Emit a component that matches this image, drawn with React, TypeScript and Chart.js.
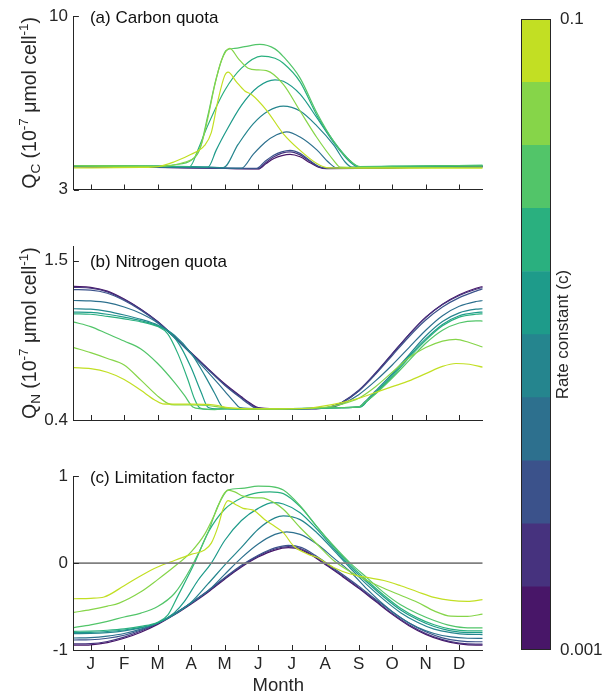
import React, { useEffect, useRef } from "react";
import { Chart, registerables } from "chart.js";

Chart.register(...registerables);

const FONT = '"Liberation Sans", Arial, Helvetica, sans-serif';
const AXIS_COLOR = "#262626";
Chart.defaults.font.family = FONT;

// ---------- shared axis data ----------
const monthLabels = ["J", "F", "M", "A", "M", "J", "J", "A", "S", "O", "N", "D"];
const monthTicks = [0.5, 1.5, 2.5, 3.5, 4.5, 5.5, 6.5, 7.5, 8.5, 9.5, 10.5, 11.5];
const monthMin = 0;
const monthMax = 12.2;

// rate constant (c) colour levels, low -> high
const rateColors = ["#481668", "#46327e", "#3b528b", "#2d708e", "#25858e", "#1e9b8a", "#2ab07f", "#52c569", "#86d549", "#c2df23"];
const rateEdges = [0.001, 0.001585, 0.002512, 0.003981, 0.00631, 0.01, 0.01585, 0.02512, 0.03981, 0.0631, 0.1];
const rateTicks = [0.001, 0.1];
const rateTickLabels = ["0.001", "0.1"];

const carbonTicks = [3, 10];
const carbonTickLabels = ["3", "10"];
const nitrogenTicks = [0.4, 1.5];
const nitrogenTickLabels = ["0.4", "1.5"];
const limitTicks = [-1, 0, 1];
const limitTickLabels = ["-1", "0", "1"];

type Pt = [number, number];

// ---------- (a) Carbon quota, [month, value] ----------
const carbon0: Pt[] = [[0,3.92],[2,3.9],[4,3.86],[5.5,3.83],[5.74,4.05],[5.97,4.25],[6.21,4.37],[6.45,4.42],[6.75,4.32],[7.05,4.08],[7.3,3.9],[7.55,3.84],[8.5,3.85],[10,3.88],[12.2,3.91]];
const carbon1: Pt[] = [[0,3.92],[2,3.9],[4,3.87],[5.5,3.84],[5.74,4.1],[5.97,4.32],[6.21,4.47],[6.45,4.52],[6.75,4.4],[7.05,4.13],[7.3,3.92],[7.55,3.85],[8.5,3.86],[10,3.89],[12.2,3.92]];
const carbon2: Pt[] = [[0,3.93],[2,3.91],[4,3.87],[5.45,3.85],[5.7,4.13],[5.95,4.37],[6.2,4.52],[6.45,4.58],[6.75,4.46],[7.05,4.16],[7.3,3.94],[7.55,3.86],[8.5,3.87],[10,3.9],[12.2,3.93]];
const carbon3: Pt[] = [[0,3.94],[2,3.92],[4,3.89],[5.0,3.86],[5.35,4.42],[5.7,4.9],[6.05,5.21],[6.35,5.33],[6.75,5.12],[7.25,4.6],[7.6,4.1],[7.85,3.87],[9,3.88],[12.2,3.93]];
const carbon4: Pt[] = [[0,3.95],[2,3.93],[4,3.9],[4.46,3.88],[4.9,4.82],[5.35,5.65],[5.8,6.17],[6.25,6.37],[6.75,6.17],[7.25,5.57],[7.75,4.8],[8.1,4.1],[8.3,3.9],[9,3.9],[12.2,3.95]];
const carbon5: Pt[] = [[0,3.96],[2,3.94],[3.5,3.92],[4.0,3.9],[4.25,4.6],[4.5,5.25],[5.0,6.4],[5.5,7.15],[6.0,7.43],[6.25,7.37],[6.75,6.85],[7.25,5.9],[7.75,4.9],[8.25,4.1],[8.5,3.91],[10,3.93],[12.2,3.97]];
const carbon6: Pt[] = [[0,3.97],[2,3.95],[3.46,3.93],[3.7,4.6],[4.0,5.6],[4.5,7.0],[5.0,7.9],[5.6,8.39],[6.0,8.3],[6.25,8.1],[6.75,7.35],[7.25,6.0],[7.75,4.95],[8.25,4.15],[8.5,3.93],[10,3.95],[12.2,3.98]];
const carbon7: Pt[] = [[0,3.97],[2.5,3.96],[3.0,4.0],[3.5,4.18],[3.75,4.6],[4.0,6.0],[4.25,7.5],[4.55,8.62],[4.8,8.7],[5.1,8.77],[5.55,8.86],[6.0,8.68],[6.25,8.37],[6.75,7.5],[7.25,6.1],[7.75,4.95],[8.25,4.15],[8.55,3.92],[10,3.95],[12.2,3.98]];
const carbon8: Pt[] = [[0,3.95],[2.5,3.93],[2.9,3.97],[3.3,4.1],[3.6,4.3],[3.8,4.8],[4.0,5.9],[4.2,7.2],[4.4,8.2],[4.65,8.7],[4.9,8.3],[5.2,7.9],[5.5,7.83],[5.75,7.8],[6.25,7.25],[6.75,6.17],[7.25,5.1],[7.75,4.18],[7.95,3.9],[9,3.88],[12.2,3.9]];
const carbon9: Pt[] = [[0,3.87],[2.0,3.89],[2.5,3.92],[3.0,4.12],[3.5,4.42],[3.9,4.78],[4.1,5.3],[4.3,6.6],[4.5,7.6],[4.6,7.74],[4.85,7.35],[5.1,6.98],[5.3,6.84],[5.75,6.2],[6.25,5.25],[6.75,4.58],[7.25,4.05],[7.6,3.87],[9,3.86],[12.2,3.86]];

// ---------- (b) Nitrogen quota ----------
const nitrogen0: Pt[] = [[0,1.322],[0.5,1.316],[1,1.29],[1.5,1.235],[2,1.165],[2.5,1.08],[3,0.975],[3.5,0.865],[4,0.755],[4.5,0.65],[5,0.56],[5.3,0.51],[5.5,0.485],[6,0.477],[7,0.478],[7.6,0.486],[8,0.52],[8.5,0.6],[9,0.72],[9.5,0.855],[10,0.99],[10.5,1.11],[11,1.2],[11.5,1.265],[12,1.31],[12.2,1.322]];
const nitrogen1: Pt[] = [[0,1.316],[0.5,1.31],[1,1.285],[1.5,1.232],[2,1.163],[2.5,1.078],[3,0.973],[3.5,0.862],[4,0.752],[4.5,0.645],[5,0.555],[5.3,0.505],[5.45,0.484],[6,0.477],[7,0.478],[7.6,0.487],[8,0.523],[8.5,0.605],[9,0.725],[9.5,0.858],[10,0.99],[10.5,1.108],[11,1.197],[11.5,1.26],[12,1.303],[12.2,1.315]];
const nitrogen2: Pt[] = [[0,1.3],[0.5,1.297],[1,1.275],[1.5,1.225],[2,1.158],[2.5,1.075],[3,0.97],[3.5,0.86],[4,0.748],[4.5,0.64],[5,0.548],[5.25,0.505],[5.4,0.484],[6,0.477],[7,0.478],[7.6,0.487],[8,0.52],[8.5,0.6],[9,0.715],[9.5,0.845],[10,0.975],[10.5,1.09],[11,1.18],[11.5,1.245],[12,1.29],[12.2,1.305]];
const nitrogen3: Pt[] = [[0,1.225],[0.5,1.222],[1,1.21],[1.5,1.18],[2,1.135],[2.5,1.07],[3,0.97],[3.5,0.855],[4,0.73],[4.5,0.6],[4.8,0.52],[4.95,0.485],[5.5,0.477],[7,0.479],[7.7,0.488],[8,0.51],[8.5,0.575],[9,0.67],[9.5,0.78],[10,0.9],[10.5,1.02],[11,1.12],[11.5,1.185],[12,1.218],[12.2,1.225]];
const nitrogen4: Pt[] = [[0,1.168],[0.5,1.165],[1,1.15],[1.5,1.125],[2,1.095],[2.5,1.055],[3,0.985],[3.5,0.86],[3.9,0.71],[4.2,0.585],[4.45,0.487],[4.8,0.478],[6,0.476],[7,0.479],[8,0.485],[8.5,0.49],[8.7,0.53],[9,0.6],[9.5,0.72],[10,0.85],[10.5,0.98],[11,1.08],[11.5,1.14],[12,1.165],[12.2,1.168]];
const nitrogen5: Pt[] = [[0,1.145],[0.5,1.143],[1,1.13],[1.5,1.11],[2,1.085],[2.5,1.05],[2.9,0.995],[3.2,0.9],[3.5,0.76],[3.8,0.59],[4.0,0.488],[4.3,0.476],[6,0.476],[7,0.48],[8,0.486],[8.55,0.49],[8.75,0.53],[9,0.59],[9.5,0.71],[10,0.84],[10.5,0.96],[11,1.06],[11.5,1.12],[12,1.142],[12.2,1.145]];
const nitrogen6: Pt[] = [[0,1.133],[0.5,1.13],[1,1.115],[1.5,1.098],[2,1.078],[2.5,1.045],[2.8,0.995],[3.1,0.86],[3.4,0.68],[3.6,0.545],[3.75,0.485],[4,0.474],[4.5,0.478],[5,0.474],[6,0.477],[7,0.481],[8,0.486],[8.55,0.49],[8.75,0.53],[9,0.585],[9.5,0.7],[10,0.83],[10.5,0.95],[11,1.05],[11.5,1.11],[12,1.13],[12.2,1.133]];
const nitrogen7: Pt[] = [[0,1.076],[0.5,1.045],[1,0.995],[1.5,0.945],[2,0.89],[2.5,0.79],[3,0.66],[3.3,0.57],[3.55,0.49],[3.8,0.477],[4.2,0.472],[4.6,0.48],[5,0.475],[6,0.477],[7,0.481],[8,0.486],[8.5,0.49],[8.7,0.525],[9,0.58],[9.5,0.69],[10,0.81],[10.5,0.93],[11,1.02],[11.5,1.07],[12,1.085],[12.2,1.083]];
const nitrogen8: Pt[] = [[0,0.9],[0.5,0.865],[1,0.825],[1.5,0.78],[2,0.675],[2.5,0.565],[2.8,0.515],[3,0.505],[3.5,0.505],[4,0.5],[4.5,0.484],[5,0.478],[6,0.477],[7,0.48],[7.5,0.488],[8,0.51],[8.5,0.55],[9,0.63],[9.5,0.73],[10,0.83],[10.5,0.9],[11,0.945],[11.4,0.957],[11.8,0.935],[12.2,0.904]];
const nitrogen9: Pt[] = [[0,0.762],[0.5,0.755],[1,0.73],[1.5,0.68],[2,0.605],[2.4,0.54],[2.65,0.512],[3,0.51],[3.5,0.51],[4,0.508],[4.3,0.5],[4.6,0.485],[5,0.479],[6,0.477],[7,0.481],[7.3,0.49],[8,0.52],[8.5,0.55],[9,0.59],[9.5,0.63],[10,0.67],[10.5,0.72],[11,0.77],[11.4,0.79],[11.8,0.785],[12.2,0.765]];

// ---------- (c) Limitation factor ----------
const limit0: Pt[] = [[0,-0.945],[0.5,-0.94],[1,-0.915],[1.5,-0.865],[2,-0.795],[2.5,-0.705],[3,-0.595],[3.5,-0.47],[4,-0.335],[4.5,-0.185],[5,-0.045],[5.5,0.07],[6,0.15],[6.4,0.177],[6.8,0.15],[7.2,0.065],[7.5,-0.015],[8,-0.15],[8.5,-0.29],[9,-0.44],[9.5,-0.59],[10,-0.72],[10.5,-0.82],[11,-0.89],[11.5,-0.93],[12,-0.945],[12.2,-0.945]];
const limit1: Pt[] = [[0,-0.93],[0.5,-0.927],[1,-0.902],[1.5,-0.852],[2,-0.782],[2.5,-0.695],[3,-0.585],[3.5,-0.46],[4,-0.325],[4.5,-0.175],[5,-0.035],[5.5,0.08],[6,0.162],[6.4,0.19],[6.8,0.162],[7.2,0.075],[7.5,-0.005],[8,-0.14],[8.5,-0.28],[9,-0.43],[9.5,-0.58],[10,-0.71],[10.5,-0.81],[11,-0.88],[11.5,-0.92],[12,-0.933],[12.2,-0.933]];
const limit2: Pt[] = [[0,-0.885],[0.5,-0.882],[1,-0.865],[1.5,-0.83],[2,-0.77],[2.5,-0.69],[3,-0.582],[3.5,-0.455],[4,-0.318],[4.5,-0.168],[5,-0.025],[5.5,0.09],[6,0.175],[6.4,0.205],[6.8,0.178],[7.2,0.09],[7.5,0.01],[8,-0.125],[8.5,-0.265],[9,-0.415],[9.5,-0.56],[10,-0.69],[10.5,-0.79],[11,-0.86],[11.5,-0.895],[12,-0.905],[12.2,-0.905]];
const limit3: Pt[] = [[0,-0.862],[0.5,-0.858],[1,-0.84],[1.5,-0.81],[2,-0.76],[2.5,-0.69],[3,-0.585],[3.5,-0.46],[4,-0.32],[4.5,-0.13],[5,0.06],[5.5,0.22],[6,0.33],[6.35,0.36],[6.75,0.33],[7.25,0.22],[7.75,0.06],[8.25,-0.1],[8.75,-0.3],[9.25,-0.48],[9.75,-0.63],[10.25,-0.74],[10.75,-0.81],[11.25,-0.85],[11.75,-0.865],[12.2,-0.867]];
const limit4: Pt[] = [[0,-0.812],[0.5,-0.81],[1,-0.8],[1.5,-0.78],[2,-0.745],[2.5,-0.69],[3,-0.59],[3.5,-0.45],[4,-0.24],[4.6,0.02],[5,0.18],[5.5,0.39],[6,0.52],[6.25,0.543],[6.75,0.5],[7.25,0.35],[7.75,0.15],[8.25,-0.06],[8.75,-0.25],[9.25,-0.42],[9.75,-0.57],[10.25,-0.68],[10.75,-0.76],[11.25,-0.8],[11.75,-0.82],[12.2,-0.822]];
const limit5: Pt[] = [[0,-0.8],[0.5,-0.797],[1,-0.787],[1.5,-0.77],[2,-0.74],[2.5,-0.69],[3,-0.57],[3.3,-0.44],[3.7,-0.2],[4.1,0.0],[4.5,0.26],[5,0.49],[5.5,0.63],[5.95,0.695],[6.25,0.68],[6.75,0.58],[7.25,0.39],[7.75,0.17],[8.25,-0.04],[8.75,-0.22],[9.25,-0.39],[9.75,-0.54],[10.25,-0.65],[10.75,-0.73],[11.25,-0.78],[11.75,-0.8],[12.2,-0.8]];
const limit6: Pt[] = [[0,-0.785],[0.5,-0.782],[1,-0.773],[1.5,-0.757],[2,-0.728],[2.5,-0.68],[2.8,-0.6],[3.1,-0.38],[3.6,0.0],[4,0.35],[4.5,0.62],[5,0.75],[5.5,0.81],[5.85,0.82],[6.25,0.8],[6.75,0.65],[7.25,0.42],[7.75,0.19],[8.25,-0.02],[8.75,-0.2],[9.25,-0.37],[9.75,-0.52],[10.25,-0.63],[10.75,-0.71],[11.25,-0.76],[11.75,-0.78],[12.2,-0.78]];
const limit7: Pt[] = [[0,-0.742],[0.5,-0.71],[1,-0.67],[1.5,-0.62],[2,-0.575],[2.5,-0.5],[3,-0.35],[3.5,-0.05],[4,0.35],[4.3,0.66],[4.6,0.84],[5,0.86],[5.5,0.885],[5.9,0.88],[6.25,0.84],[6.75,0.66],[7.25,0.42],[7.75,0.2],[8.25,0.0],[8.75,-0.17],[9.25,-0.34],[9.75,-0.48],[10.25,-0.58],[10.75,-0.66],[11.25,-0.72],[11.75,-0.745],[12.2,-0.745]];
const limit8: Pt[] = [[0,-0.568],[0.5,-0.535],[1,-0.495],[1.35,-0.46],[2,-0.33],[2.5,-0.19],[3,-0.04],[3.5,0.13],[3.9,0.33],[4.2,0.56],[4.45,0.78],[4.6,0.84],[4.8,0.82],[5.05,0.77],[5.4,0.75],[5.6,0.75],[6,0.69],[6.25,0.62],[6.75,0.41],[7.25,0.22],[7.75,0.03],[8.25,-0.1],[8.75,-0.2],[9.25,-0.29],[9.75,-0.37],[10.25,-0.45],[10.75,-0.55],[11.25,-0.61],[11.75,-0.612],[12.2,-0.587]];
const limit9: Pt[] = [[0,-0.41],[0.5,-0.405],[0.9,-0.39],[1.5,-0.26],[2,-0.145],[2.5,-0.045],[3,0.03],[3.5,0.1],[3.9,0.15],[4.1,0.23],[4.3,0.42],[4.45,0.62],[4.6,0.72],[4.8,0.68],[5.05,0.63],[5.35,0.61],[5.7,0.5],[6,0.42],[6.25,0.35],[6.55,0.2],[7,0.1],[7.25,0.067],[7.75,-0.05],[8.25,-0.125],[8.75,-0.165],[9.25,-0.2],[9.75,-0.26],[10.25,-0.33],[10.75,-0.395],[11.25,-0.43],[11.75,-0.44],[12.2,-0.421]];

const carbonSeries = [carbon0, carbon1, carbon2, carbon3, carbon4, carbon5, carbon6, carbon7, carbon8, carbon9];
const nitrogenSeries = [nitrogen0, nitrogen1, nitrogen2, nitrogen3, nitrogen4, nitrogen5, nitrogen6, nitrogen7, nitrogen8, nitrogen9];
const limitSeries = [limit0, limit1, limit2, limit3, limit4, limit5, limit6, limit7, limit8, limit9];

type LabelPart = { t: string; s: number };
const carbonLabel: LabelPart[] = [
  { t: "Q", s: 0 }, { t: "C", s: -1 }, { t: " (10", s: 0 }, { t: "-7", s: 1 },
  { t: " \u03bcmol cell", s: 0 }, { t: "-1", s: 1 }, { t: ")", s: 0 },
];
const nitrogenLabel: LabelPart[] = [
  { t: "Q", s: 0 }, { t: "N", s: -1 }, { t: " (10", s: 0 }, { t: "-7", s: 1 },
  { t: " \u03bcmol cell", s: 0 }, { t: "-1", s: 1 }, { t: ")", s: 0 },
];

const CANVAS_W = 490;
const AREA_LEFT = 73.9;
const AREA_RIGHT = 482.7;

function makeDecor(title: string, titleAt: number, yLabel: LabelPart[] | null) {
  return {
    id: "panelDecor",
    afterDraw(chart: any) {
      const { ctx, chartArea: a, scales } = chart;
      const xs = scales.x;
      const ys = scales.y;
      ctx.save();
      ctx.strokeStyle = AXIS_COLOR;
      ctx.lineWidth = 1;
      ctx.beginPath();
      xs.ticks.forEach((t: any) => {
        const px = Math.round(xs.getPixelForValue(t.value)) + 0.5;
        ctx.moveTo(px, a.bottom);
        ctx.lineTo(px, a.bottom - 5);
      });
      ys.ticks.forEach((t: any) => {
        const py = Math.round(ys.getPixelForValue(t.value)) + 0.5;
        ctx.moveTo(a.left, py);
        ctx.lineTo(a.left + 5, py);
      });
      ctx.stroke();

      ctx.fillStyle = "#111";
      ctx.font = `17px ${FONT}`;
      ctx.textAlign = "left";
      ctx.textBaseline = "alphabetic";
      ctx.fillText(title, a.left + 16, ys.getPixelForValue(titleAt) + 6.5);

      if (yLabel) {
        const mainFont = `19.5px ${FONT}`;
        const smallFont = `13.5px ${FONT}`;
        let total = 0;
        const widths = yLabel.map((p) => {
          ctx.font = p.s === 0 ? mainFont : smallFont;
          const w = ctx.measureText(p.t).width;
          total += w;
          return w;
        });
        ctx.translate(35.5, (a.top + a.bottom) / 2);
        ctx.rotate(-Math.PI / 2);
        ctx.fillStyle = AXIS_COLOR;
        let cx = -total / 2;
        yLabel.forEach((p, i) => {
          ctx.font = p.s === 0 ? mainFont : smallFont;
          const dy = p.s === -1 ? 4.5 : p.s === 1 ? -7.5 : 0;
          ctx.fillText(p.t, cx, dy);
          cx += widths[i];
        });
      }
      ctx.restore();
    },
  };
}

interface PanelProps {
  top: number;
  height: number;
  areaTop: number;
  areaBottom: number;
  series: Pt[][];
  yMin: number;
  yMax: number;
  yTicks: number[];
  yTickLabels: string[];
  title: string;
  titleAt: number;
  yLabel: LabelPart[] | null;
  showMonths: boolean;
  zeroLine: boolean;
}

function Panel(p: PanelProps) {
  const ref = useRef<HTMLCanvasElement>(null);
  useEffect(() => {
    if (!ref.current) return;
    const datasets: any[] = p.series.map((d, i) => ({
      data: d,
      borderColor: rateColors[i],
      borderWidth: 1.2,
      pointRadius: 0,
      fill: false,
      cubicInterpolationMode: "monotone",
      order: 10 - i,
    }));
    if (p.zeroLine) {
      datasets.push({
        data: [[monthMin, 0], [monthMax, 0]],
        borderColor: "#808080",
        borderWidth: 1.6,
        pointRadius: 0,
        fill: false,
        order: 0,
      });
    }
    const chart = new Chart(ref.current, {
      type: "line",
      data: { datasets },
      options: {
        animation: false,
        responsive: false,
        devicePixelRatio: 1,
        layout: { padding: { top: p.areaTop, left: 0, right: CANVAS_W - AREA_RIGHT, bottom: 0 } },
        plugins: { legend: { display: false }, tooltip: { enabled: false } },
        scales: {
          x: {
            type: "linear",
            min: monthMin,
            max: monthMax,
            afterBuildTicks: (s: any) => {
              s.ticks = monthTicks.map((v) => ({ value: v }));
            },
            afterFit: (s: any) => {
              s.height = p.height - p.areaBottom;
            },
            grid: { display: false, drawTicks: false },
            border: { display: true, color: AXIS_COLOR, width: 1 },
            ticks: {
              display: p.showMonths,
              autoSkip: false,
              maxRotation: 0,
              minRotation: 0,
              padding: 4,
              color: AXIS_COLOR,
              font: { family: FONT, size: 17 },
              callback: (_v: any, i: number) => monthLabels[i],
            },
            title: {
              display: p.showMonths,
              text: "Month",
              color: AXIS_COLOR,
              font: { family: FONT, size: 18.5 },
              padding: { top: 0, bottom: 3.4 },
            },
          },
          y: {
            type: "linear",
            min: p.yMin,
            max: p.yMax,
            afterBuildTicks: (s: any) => {
              s.ticks = p.yTicks.map((v) => ({ value: v }));
            },
            afterFit: (s: any) => {
              s.width = AREA_LEFT;
            },
            grid: { display: false, drawTicks: false },
            border: { display: true, color: AXIS_COLOR, width: 1 },
            ticks: {
              padding: 6,
              color: AXIS_COLOR,
              font: { family: FONT, size: 17 },
              callback: (_v: any, i: number) => p.yTickLabels[i],
            },
          },
        },
      } as any,
      plugins: [makeDecor(p.title, p.titleAt, p.yLabel)],
    });
    return () => chart.destroy();
  }, []);
  return (
    <canvas
      ref={ref}
      width={CANVAS_W}
      height={p.height}
      style={{ position: "absolute", left: 0, top: p.top, width: CANVAS_W, height: p.height }}
    />
  );
}

const colorbarDecor = {
  id: "colorbarDecor",
  afterDraw(chart: any) {
    const { ctx, chartArea: a } = chart;
    ctx.save();
    ctx.strokeStyle = AXIS_COLOR;
    ctx.lineWidth = 1;
    const l = Math.round(a.left) + 0.5;
    const t = Math.round(a.top) + 0.5;
    const r = Math.round(a.right) - 0.5;
    const b = Math.round(a.bottom) - 0.5;
    ctx.strokeRect(l, t, r - l, b - t);
    ctx.fillStyle = AXIS_COLOR;
    ctx.font = `17px ${FONT}`;
    ctx.textAlign = "center";
    ctx.textBaseline = "alphabetic";
    ctx.translate(78, (a.top + a.bottom) / 2);
    ctx.rotate(-Math.PI / 2);
    ctx.fillText("Rate constant (c)", 0, 0);
    ctx.restore();
  },
};

function Colorbar() {
  const ref = useRef<HTMLCanvasElement>(null);
  useEffect(() => {
    if (!ref.current) return;
    const chart = new Chart(ref.current, {
      type: "bar",
      data: {
        labels: [""],
        datasets: rateColors.map((c, i) => ({
          data: [[rateEdges[i], rateEdges[i + 1]]],
          backgroundColor: c,
          borderWidth: 0,
          barPercentage: 1,
          categoryPercentage: 1,
          grouped: false,
        })),
      },
      options: {
        animation: false,
        responsive: false,
        devicePixelRatio: 1,
        layout: { padding: { top: 14, bottom: 50, left: 31, right: 0 } },
        plugins: { legend: { display: false }, tooltip: { enabled: false } },
        scales: {
          x: { display: false },
          y: {
            type: "logarithmic",
            position: "right",
            min: rateEdges[0],
            max: rateEdges[rateEdges.length - 1],
            afterBuildTicks: (s: any) => {
              s.ticks = rateTicks.map((v) => ({ value: v }));
            },
            afterFit: (s: any) => {
              s.width = 51;
            },
            grid: { display: false, drawTicks: false },
            border: { display: false },
            ticks: {
              padding: 9,
              color: AXIS_COLOR,
              font: { family: FONT, size: 17 },
              callback: (_v: any, i: number) => rateTickLabels[i],
            },
          },
        },
      } as any,
      plugins: [colorbarDecor],
    });
    return () => chart.destroy();
  }, []);
  return (
    <canvas
      ref={ref}
      width={112}
      height={700}
      style={{ position: "absolute", left: 490, top: 0, width: 112, height: 700 }}
    />
  );
}

export default function App() {
  return (
    <div style={{ position: "absolute", left: 0, top: 0, width: 602, height: 700, background: "#ffffff", overflow: "hidden" }}>
      <Panel
        top={0}
        height={215}
        areaTop={14}
        areaBottom={189.5}
        series={carbonSeries}
        yMin={3}
        yMax={10}
        yTicks={carbonTicks}
        yTickLabels={carbonTickLabels}
        title="(a) Carbon quota"
        titleAt={10}
        yLabel={carbonLabel}
        showMonths={false}
        zeroLine={false}
      />
      <Panel
        top={230}
        height={222}
        areaTop={15.5}
        areaBottom={190}
        series={nitrogenSeries}
        yMin={0.4}
        yMax={1.6}
        yTicks={nitrogenTicks}
        yTickLabels={nitrogenTickLabels}
        title="(b) Nitrogen quota"
        titleAt={1.5}
        yLabel={nitrogenLabel}
        showMonths={false}
        zeroLine={false}
      />
      <Panel
        top={460}
        height={240}
        areaTop={15}
        areaBottom={190}
        series={limitSeries}
        yMin={-1}
        yMax={1}
        yTicks={limitTicks}
        yTickLabels={limitTickLabels}
        title="(c) Limitation factor"
        titleAt={1}
        yLabel={null}
        showMonths={true}
        zeroLine={true}
      />
      <Colorbar />
    </div>
  );
}
